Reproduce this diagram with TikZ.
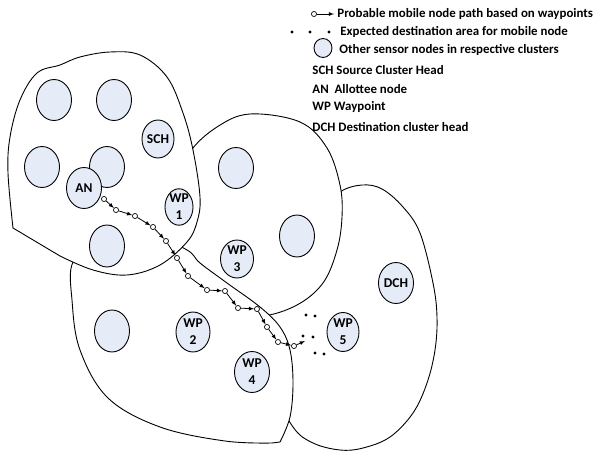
\documentclass[tikz,border=0pt]{standalone}
\usepackage{fontspec}
\setmainfont{Carlito}
\usepackage{tikz}
\usetikzlibrary{shapes.geometric,arrows}
\definecolor{nodefill}{RGB}{230,236,247}

\begin{document}
\begin{tikzpicture}[x=1pt, y=-1pt, line width=0.9pt,
snode/.style={draw, ellipse, fill=nodefill, minimum width=35pt, minimum height=41pt, inner sep=0pt, align=center, font=\fontsize{13.5}{17}\selectfont\bfseries},
wpt/.style={draw, circle, fill=white, inner sep=1.8pt, line width=0.7pt},
myto/.style={-latex, line width=0.8pt},
cluster/.style={draw, fill=white},
lgd/.style={anchor=west, inner sep=0pt, font=\fontsize{12.9}{15}\selectfont\bfseries}]
\useasboundingbox (0,0) rectangle (598,452);
% clusters, back to front
\draw[cluster] plot[smooth cycle, tension=0.6] coordinates {(340,192) (362,185) (382,189) (403,207) (420,233) (433,283) (437,317) (435,350) (427,383) (413,413) (390,437) (363,448) (340,450) (313,443) (293,427) (272,385) (255,322) (268,298) (300,255) (322,212)};
\draw[cluster] plot[smooth cycle, tension=0.6] coordinates {(178,185) (190,152) (217,127) (250,114) (300,122) (327,148) (340,185) (342,217) (337,250) (323,283) (297,305) (262,316) (230,310) (185,265)};
\draw[cluster] plot[smooth, tension=0.6] coordinates {(280,442) (290,417) (293,383) (290,350) (280,327) (260,307) (227,283) (200,263) (187,250) (150,235) (100,240) (73,262) (72,300) (80,350) (108,398) (160,427) (225,441) (272,443)} -- cycle;
\draw[cluster] plot[smooth, tension=0.6] coordinates {(13,228) (8,173) (10,137) (20,100) (37,73) (60,65) (80,57) (110,52) (140,55) (167,77) (183,113) (193,150) (200,197) (197,222) (187,242) (160,265) (127,275) (93,270) (60,256)} -- cycle;
% sensor nodes
\node[snode] (s1) at (54,100) {};
\node[snode] (s2) at (114,100) {};
\node[snode, minimum width=32pt, minimum height=38pt] (sch) at (158,139) {SCH};
\node[snode] (s3) at (42,167) {};
\node[snode] (s4) at (107,167) {};
\node[snode] (an) at (84,188) {AN};
\node[snode, minimum width=28pt, minimum height=34pt] (wp1) at (179,207) {WP\\1};
\node[snode, minimum height=42pt] (s5) at (107,246) {};
\node[snode] (s6) at (236,168) {};
\node[snode, minimum height=42pt] (s7) at (297,236) {};
\node[snode, minimum width=33pt, minimum height=38pt] (wp3) at (237,259) {WP\\3};
\node[snode, minimum height=42pt] (s8) at (112,331) {};
\node[snode, minimum width=34pt, minimum height=40pt] (wp2) at (193,332) {WP\\2};
\node[snode] (wp4) at (252,372) {WP\\4};
\node[snode] (dch) at (396,283) {DCH};
\node[snode, minimum width=32pt, minimum height=39pt] (wp5) at (343,332) {WP\\5};
% mobile node path
\foreach \n/\x/\y in {0/104/199, 1/116/210, 2/135/216, 3/153/227, 4/166/241, 5/177/258, 6/188/276, 7/207/290, 8/225/291, 9/238/308, 10/257/309, 11/267/327, 12/278/342, 13/294/346}{\node[wpt] (p\n) at (\x,\y) {};}
\coordinate (pe) at (305,341);
\foreach \i/\j in {p0/p1,p1/p2,p2/p3,p3/p4,p4/p5,p5/p6,p6/p7,p7/p8,p8/p9,p9/p10,p10/p11,p11/p12,p12/p13,p13/pe}{\draw[myto] (\i) -- (\j);}
% destination area
\foreach \x/\y in {306/315, 315/316, 303/336, 313/337, 315/353, 324/354}{\fill (\x,\y) circle (1.7pt);}
% legend
\node[wpt] (lgc) at (314,14) {};
\coordinate (lge) at (334,14);
\draw[myto] (lgc) -- (lge);
\node[lgd] (l1) at (337,14) {Probable mobile node path based on waypoints};
\foreach \x in {292,310,329}{\fill (\x,32) circle (1.7pt);}
\node[lgd] (l2) at (340,32) {Expected destination area for mobile node};
\node[snode, minimum width=18pt, minimum height=19pt] (lgo) at (323,48) {};
\node[lgd] (l3) at (339,50) {Other sensor nodes in respective clusters};
\node[lgd] (l4) at (312,70) {SCH Source Cluster Head};
\node[lgd] (l5) at (312,89) {AN\ \ Allottee node};
\node[lgd] (l6) at (312,107) {WP Waypoint};
\node[lgd] (l7) at (312,127) {DCH Destination cluster head};
\end{tikzpicture}
\end{document}
